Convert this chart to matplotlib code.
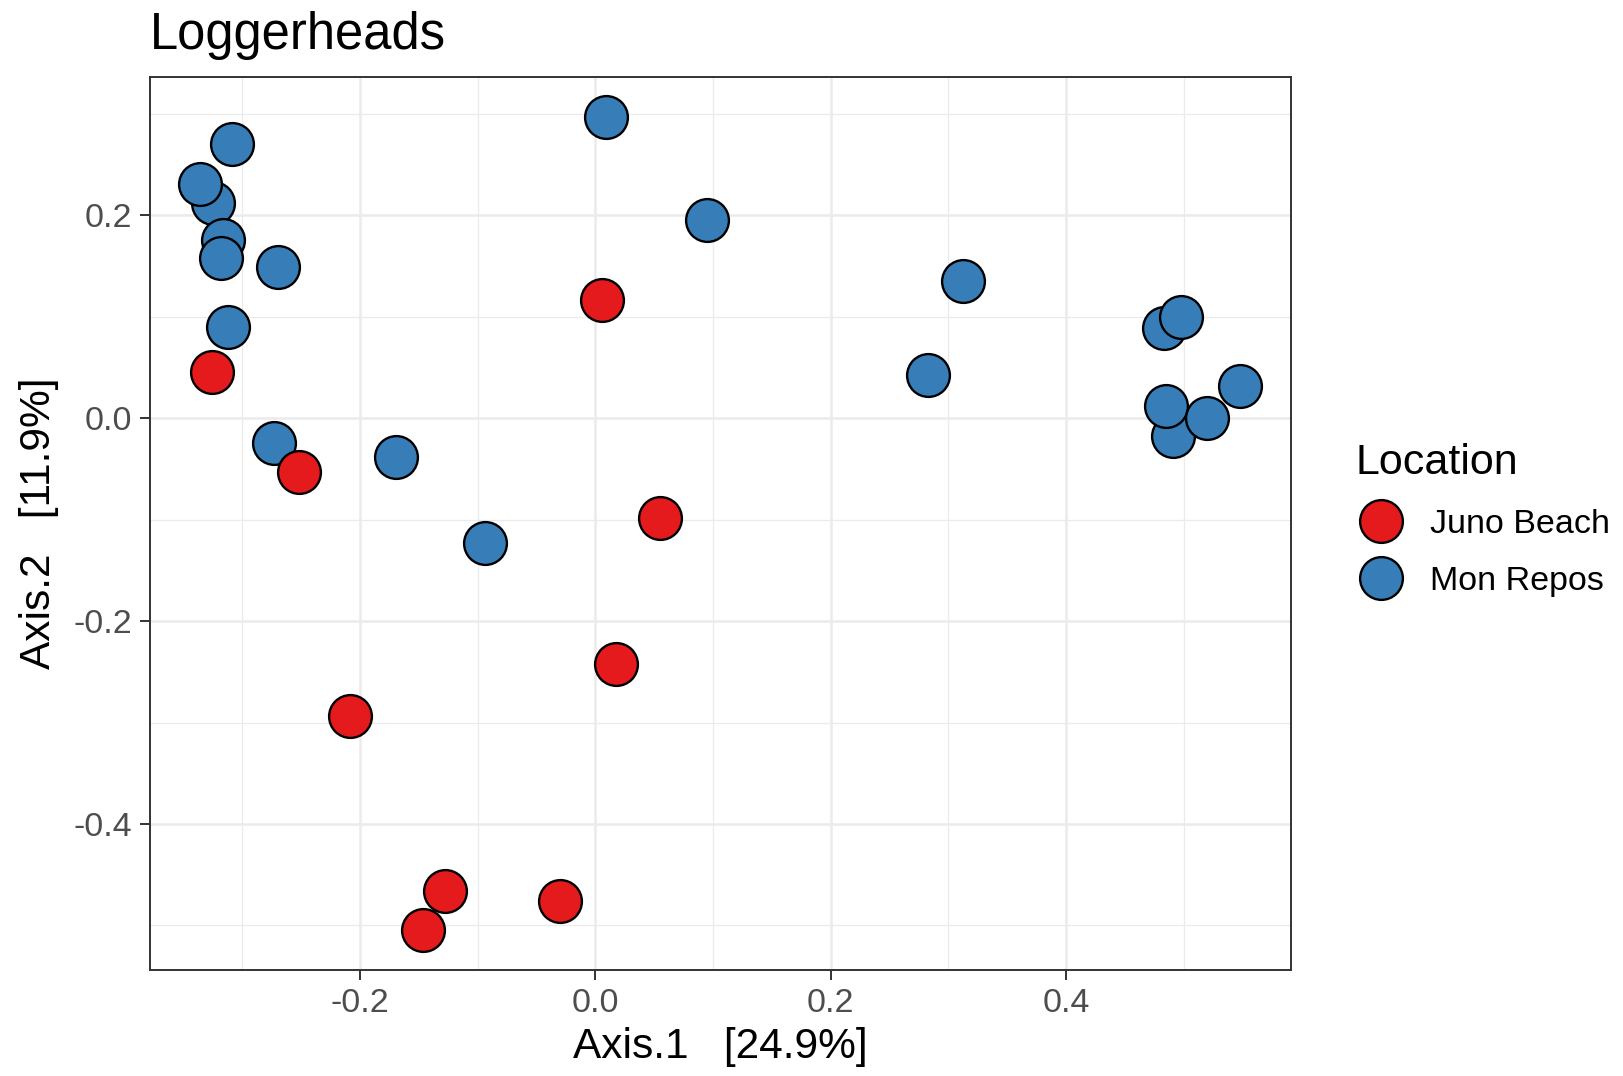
import numpy as np
import matplotlib.pyplot as plt
from matplotlib.lines import Line2D

plt.rcParams['font.family'] = ['Liberation Sans', 'DejaVu Sans']

# PCoA coordinates per sample
mon_x = [0.009, 0.095, -0.309, -0.325, -0.336, -0.316, -0.318, -0.270, -0.312,
         -0.273, -0.169, -0.094, 0.313, 0.283, 0.483, 0.498, 0.491, 0.485, 0.520, 0.548]
mon_y = [0.297, 0.195, 0.270, 0.212, 0.231, 0.176, 0.158, 0.149, 0.090,
         -0.024, -0.038, -0.123, 0.135, 0.043, 0.089, 0.100, -0.018, 0.012, 0.000, 0.032]

juno_x = [0.006, -0.326, -0.252, 0.055, 0.018, -0.208, -0.128, -0.146, -0.030]
juno_y = [0.117, 0.046, -0.053, -0.098, -0.242, -0.294, -0.466, -0.504, -0.476]

locations = ['Juno Beach', 'Mon Repos']
colours = ['#E41A1C', '#377EB8']

xticks = [-0.2, 0.0, 0.2, 0.4]
yticks = [0.2, 0.0, -0.2, -0.4]

fig = plt.figure(figsize=(16.23, 10.76), dpi=100)
ax = fig.add_axes([0.0924, 0.0985, 0.7030, 0.8303])

size = 950
ax.scatter(mon_x, mon_y, s=size, c=colours[1], edgecolors='black', linewidths=1.7, zorder=3)
ax.scatter(juno_x, juno_y, s=size, c=colours[0], edgecolors='black', linewidths=1.7, zorder=4)

ax.set_xlim(-0.3784, 0.5913)
ax.set_ylim(-0.5439, 0.3367)

ax.set_xticks(xticks)
ax.set_xticklabels(['-0.2', '0.0', '0.2', '0.4'])
ax.set_yticks(yticks)
ax.set_yticklabels(['0.2', '0.0', '-0.2', '-0.4'])
ax.set_xticks([-0.3, -0.1, 0.1, 0.3, 0.5], minor=True)
ax.set_yticks([0.3, 0.1, -0.1, -0.3, -0.5], minor=True)

ax.grid(which='major', color='#EBEBEB', linewidth=1.8, zorder=0)
ax.grid(which='minor', color='#EBEBEB', linewidth=0.9, zorder=0)
ax.set_axisbelow(True)
ax.tick_params(which='major', length=7, width=1.4, color='#333333',
               labelsize=24.5, labelcolor='#4D4D4D', pad=6)
ax.tick_params(which='minor', length=0)
for sp in ax.spines.values():
    sp.set_color('#333333')
    sp.set_linewidth(1.4)

ax.set_xlabel('Axis.1   [24.9%]', fontsize=30.5, labelpad=6)
ax.set_ylabel('Axis.2   [11.9%]', fontsize=30.5, labelpad=10)
ax.set_title('Loggerheads', fontsize=36.5, loc='left', pad=20)

handles = [Line2D([], [], marker='o', linestyle='none', markersize=30.8,
                  markerfacecolor=c, markeredgecolor='black', markeredgewidth=1.7)
           for c in colours]
fig.legend(handles, locations, title='Location', loc='upper left',
           bbox_to_anchor=(0.8245, 0.604), frameon=False, fontsize=24.5,
           title_fontsize=31, alignment='left', handletextpad=0.7,
           labelspacing=0.76, borderpad=0, handlelength=1.5)

fig.savefig('out.png', dpi=100)
